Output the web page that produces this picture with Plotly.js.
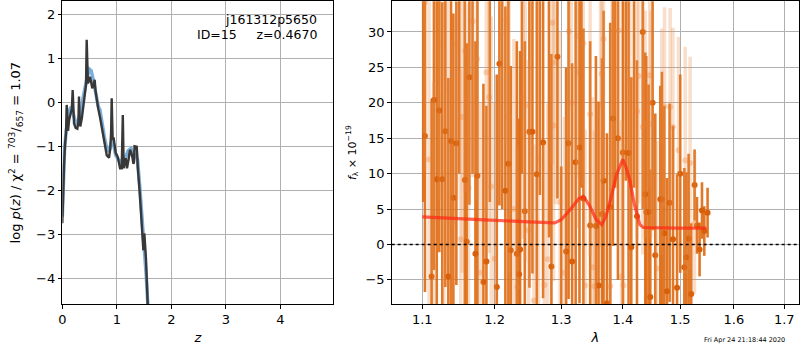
<!DOCTYPE html>
<html><head><meta charset="utf-8">
<script src="https://cdn.plot.ly/plotly-3.0.1.min.js"></script>
<style>html,body{margin:0;padding:0;background:#fff}#plot{width:800px;height:350px}</style>
</head><body><div id="plot"></div>
<script>
// ---- left panel: log p(z) ----
const zDark = [0.000,0.010,0.020,0.031,0.050,0.068,0.080,0.092,0.105,0.125,0.141,0.160,0.175,0.190,0.203,0.215,0.245,0.275,0.295,0.306,0.318,0.330,0.360,0.386,0.417,0.435,0.447,0.458,0.470,0.490,0.508,0.530,0.550,0.575,0.594,0.610,0.630,0.660,0.690,0.720,0.750,0.780,0.815,0.857,0.880,0.895,0.906,0.915,0.924,0.940,0.955,0.980,1.016,1.040,1.060,1.090,1.100,1.110,1.118,1.126,1.145,1.163,1.175,1.187,1.215,1.242,1.265,1.285,1.305,1.316,1.325,1.345,1.365,1.375,1.383,1.420,1.456,1.475,1.487,1.497,1.505,1.513,1.523,1.535,1.567,1.600];
const pzDark = [-2.75,-2.15,-1.80,-1.45,-0.95,-0.70,-0.06,-0.55,-0.65,-0.40,-0.30,-0.25,-0.15,0.28,-0.20,-0.48,-0.58,-0.60,-0.45,0.13,-0.40,-0.55,-0.35,-0.10,0.28,0.40,1.42,0.70,0.43,0.50,0.58,0.45,0.32,0.40,0.51,0.25,0.05,-0.15,-0.33,-0.55,-0.78,-1.00,-1.20,-1.26,-1.05,-0.70,0.09,-0.40,-0.86,-0.80,-0.95,-1.15,-1.24,-1.40,-1.50,-1.50,-1.10,-0.29,-0.90,-1.50,-1.35,-1.27,-1.40,-1.50,-1.30,-1.08,-1.15,-1.24,-1.40,-1.35,-1.00,-1.00,-1.01,-1.20,-1.46,-2.05,-2.67,-3.00,-3.36,-3.30,-2.98,-3.15,-3.28,-3.55,-4.61,-5.40];
const zPrior = [0.000,0.020,0.040,0.070,0.100,0.140,0.170,0.200,0.240,0.275,0.310,0.350,0.386,0.420,0.460,0.500,0.530,0.570,0.620,0.660,0.690,0.730,0.780,0.815,0.860,0.900,0.940,0.980,1.030,1.080,1.120,1.160,1.210,1.260,1.300,1.340,1.380,1.420,1.460,1.500,1.540,1.570,1.600];
const pzPrior = [-2.60,-1.70,-1.10,-0.65,-0.40,-0.15,-0.10,-0.25,-0.45,-0.50,-0.35,-0.15,0.13,0.35,0.60,0.75,0.72,0.50,0.15,-0.10,-0.17,-0.50,-0.85,-1.05,-1.12,-0.90,-0.95,-1.20,-1.30,-1.35,-1.38,-1.25,-1.10,-1.05,-1.15,-1.20,-1.30,-1.90,-2.55,-3.20,-3.95,-4.61,-5.30];

// ---- right panel: spectrum ----
const lamA = [1.1012,1.1035,1.1124,1.1155,1.1193,1.1228,1.1268,1.1309,1.1350,1.1387,1.1419,1.1460,1.1500,1.1577,1.1604,1.1641,1.1685,1.1726,1.1754,1.1839,1.1882,1.1930,1.2031,1.2069,1.2110,1.2156,1.2200,1.2235,1.2324,1.2358,1.2373,1.2400,1.2443,1.2512,1.2558,1.2624,1.2670,1.2720,1.2810,1.2848,1.2941,1.3000,1.3077,1.3116,1.3172,1.3228,1.3289,1.3320,1.3352,1.3461,1.3554,1.3597,1.3653,1.3679,1.3735,1.3790,1.3834,1.3870,1.3918,1.4000,1.4050,1.4097,1.4143,1.4190,1.4240,1.4340,1.4383,1.4400,1.4441,1.4470,1.4510,1.4557,1.4645,1.4674,1.4716,1.4763,1.4810,1.4871,1.4943,1.5000,1.5075,1.5111,1.5153,1.5200,1.5262,1.5306,1.5354,1.5398,1.5441,1.5502];
const fluxA = [36,15.3,-4.5,20.4,9.2,18.9,9.2,16.0,-4.5,14.6,6.6,14.3,40,9.1,0.4,23.6,38,-1.3,9.7,-5.3,-2.4,36,-6.0,25.5,37,7.6,11.4,-0.8,-1.3,-4.2,-0.7,38,4.7,15.9,15.9,9.9,37,14.4,35,-3.1,26.5,-11,-1.0,14.3,-2.4,11.6,13.7,38,6.5,2.7,2.6,-5.8,4.3,9.0,-8.3,5.3,17.8,38,15.0,13,37,12.9,-0.4,36,4.0,30,7.1,4.6,4.6,-7.4,20,-1.5,6.4,6.4,1.6,-6.6,5.9,0.75,-6.1,10,-3.2,-1.8,0.8,-7,8.4,2.7,-0.7,4.8,1.9,4.5];
const errA = [30,22,25,24,26,20,25,22,28,24,26,20,30,26,28,18,28,30,25,28,22,30,30,20,32,26,24,26,30,22,28,28,24,22,20,26,30,22,34,30,20,22,26,22,28,24,22,30,24,26,24,26,22,24,24,26,18,30,20,22,28,22,24,28,22,25,20,22,18,18,18,20,16,18,18,16,14,16,16,14,14,12,12,10,5,4,3.8,4,3.5,3.5];

const lamB = [1.1035,1.1090,1.1150,1.1228,1.1290,1.1340,1.1400,1.1465,1.1520,1.1540,1.1580,1.1630,1.1690,1.1750,1.1800,1.1880,1.1920,1.1950,1.2000,1.2090,1.2170,1.2210,1.2280,1.2330,1.2420,1.2450,1.2500,1.2580,1.2650,1.2740,1.2790,1.2860,1.2880,1.2910,1.2980,1.3050,1.3120,1.3160,1.3250,1.3260,1.3350,1.3380,1.3460,1.3500,1.3530,1.3630,1.3650,1.3680,1.3790,1.3820,1.3850,1.3930,1.3980,1.4010,1.4120,1.4240,1.4270,1.4340,1.4380,1.4460,1.4480,1.4580,1.4670,1.4720,1.4820,1.4870,1.4970,1.5090,1.5180,1.5260];
const fluxB = [34.2,12,-3,28.4,10,22,3,28.4,0.75,18.0,27.3,8,31.5,26.2,-4,24.3,20.8,8.2,-2,29.7,31.7,18.0,5,-6,20.8,19.6,2,-7.9,12,-5.7,-2.1,31.3,16.8,25.7,6,-4,30.1,20.0,29.4,24.3,28.4,-5.8,18.4,-3.2,-5.9,19.6,24.1,29.0,-5.9,28.4,30.2,30.2,-4.5,-5.8,23.3,18.8,23.8,16.6,17.0,23.9,17.0,-3.4,14.5,19.5,19.4,16.6,13.3,11.9,11.5,3];
const errB = [24,30,26,22,28,24,26,22,24,22,20,26,22,20,24,20,22,24,22,20,18,22,24,20,20,22,24,22,24,20,22,20,22,20,24,22,20,22,20,22,20,22,20,24,22,20,22,20,22,20,20,18,22,20,18,18,18,18,16,16,16,18,16,14,14,14,16,16,15,10];

const lamModel = [1.100,1.150,1.193,1.250,1.290,1.300,1.315,1.328,1.335,1.345,1.356,1.365,1.372,1.380,1.390,1.400,1.405,1.412,1.420,1.429,1.435,1.500,1.548];
const fluxModel = [3.9,3.7,3.44,3.2,3.05,3.5,5.0,6.5,6.8,5.5,3.5,2.8,4.0,6.5,10.0,12.0,11.0,9.0,5.5,2.8,2.4,2.3,2.3];

const xTicksLam = [1.1,1.2,1.3,1.4,1.5,1.6,1.7];
const xTickTextLam = ['1.1','1.2','1.3','1.4','1.5','1.6','1.7'];

const FONT = 'DejaVu Sans, sans-serif';
const darkBar = 'rgba(222,108,22,0.92)';
const darkMk = '#d9600a';
const lightBar = 'rgba(235,140,70,0.28)';
const lightMk = 'rgba(232,130,60,0.32)';

const traces = [
  {x: zPrior, y: pzPrior, mode:'lines', line:{color:'rgba(110,165,215,0.9)', width:3.5}, xaxis:'x', yaxis:'y', hoverinfo:'skip'},
  {x: zDark, y: pzDark, mode:'lines', line:{color:'#383838', width:2.4}, xaxis:'x', yaxis:'y', hoverinfo:'skip'},
  {x: lamA, y: fluxA, mode:'markers', marker:{color:darkMk, size:6}, error_y:{type:'data', array:errA, visible:true, color:darkBar, thickness:2.6, width:0}, xaxis:'x2', yaxis:'y2', cliponaxis:true},
  {x: lamB, y: fluxB, mode:'markers', marker:{color:lightMk, size:6}, error_y:{type:'data', array:errB, visible:true, color:lightBar, thickness:3.5, width:0}, xaxis:'x2', yaxis:'y2', cliponaxis:true},
  {x: lamModel, y: fluxModel, mode:'lines', line:{color:'rgba(255,40,20,0.72)', width:3.2}, xaxis:'x2', yaxis:'y2'}
];

const axBase = {showline:true, mirror:true, linecolor:'#000', linewidth:1, ticks:'outside', ticklen:3.5, tickwidth:1, tickcolor:'#000', showgrid:true, gridcolor:'#b0b0b0', gridwidth:1, zeroline:false, tickfont:{family:FONT, size:13, color:'#000'}};

const layout = {
  width:800, height:350, margin:{l:0,r:0,t:0,b:0}, showlegend:false,
  paper_bgcolor:'#fff', plot_bgcolor:'#fff', font:{family:FONT, size:13, color:'#000'},
  xaxis: Object.assign({}, axBase, {domain:[0.0779,0.4166], range:[0,4.972], tickvals:[0,1,2,3,4], anchor:'y',
    title:{text:'<i>z</i>', font:{family:FONT,size:13}, standoff:6}}),
  yaxis: Object.assign({}, axBase, {domain:[0.1314,0.9963], range:[-4.584,2.295], tickvals:[-4,-3,-2,-1,0,1,2], anchor:'x',
    title:{text:'log <i>p</i>(<i>z</i>) / χ<sup>2</sup> = <sup>703</sup>/<sub>657</sub> = 1.07', font:{family:FONT,size:13}, standoff:12}}),
  xaxis2: Object.assign({}, axBase, {domain:[0.4896,0.99875], type:'log', range:[0.02541,0.23813], tickvals:xTicksLam, ticktext:xTickTextLam, anchor:'y2',
    title:{text:'<i>λ</i>', font:{family:FONT,size:13}, standoff:6}}),
  yaxis2: Object.assign({}, axBase, {domain:[0.1314,0.9963], range:[-8.40,34.33], tickvals:[-5,0,5,10,15,20,25,30], anchor:'x2',
    title:{text:'<i>f</i><sub>λ</sub> × 10<sup>−19</sup>', font:{family:FONT,size:11}, standoff:6}}),
  shapes:[{type:'line', xref:'x2 domain', x0:0, x1:1, yref:'y2', y0:0, y1:0, line:{color:'#000', width:1.5, dash:'dot'}, layer:'above'}],
  annotations:[
    {xref:'paper', yref:'paper', x:0.399, y:0.9457, xanchor:'right', yanchor:'middle', showarrow:false, text:'j161312p5650', font:{family:FONT,size:12.5,color:'#000'}},
    {xref:'paper', yref:'paper', x:0.399, y:0.901, xanchor:'right', yanchor:'middle', showarrow:false, text:'ID=15\u00a0\u00a0\u00a0\u00a0\u00a0z=0.4670', font:{family:FONT,size:12.5,color:'#000'}},
    {xref:'paper', yref:'paper', x:0.931, y:0.03, xanchor:'center', yanchor:'middle', showarrow:false, text:'Fri Apr 24 21:18:44 2020', font:{family:FONT,size:6.5,color:'#000'}}
  ]
};

Plotly.newPlot('plot', traces, layout, {staticPlot:true, displayModeBar:false});
</script>
</body></html>
